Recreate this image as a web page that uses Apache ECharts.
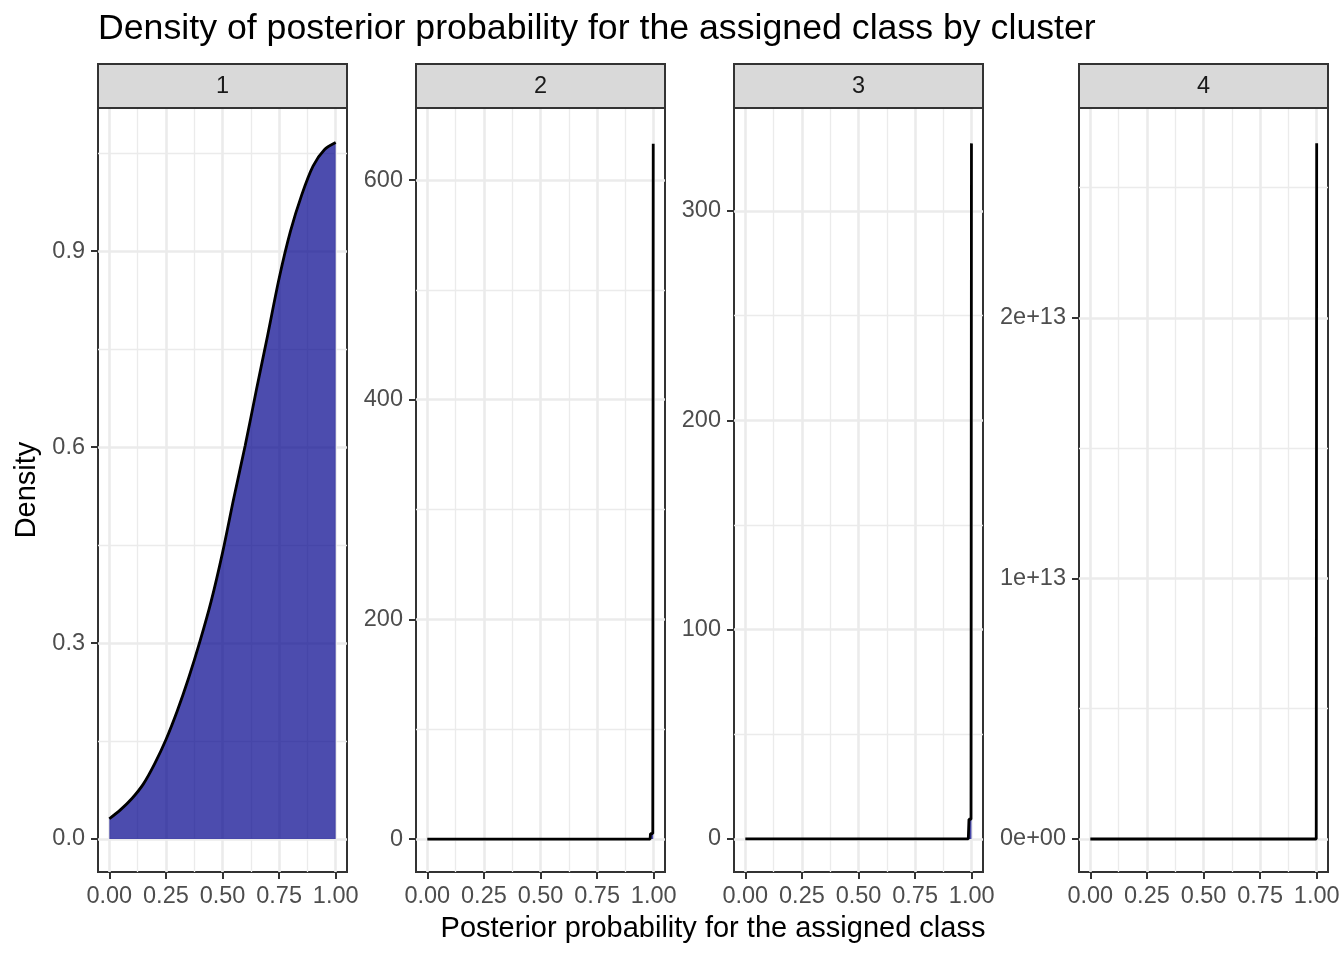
<!DOCTYPE html>
<html><head><meta charset="utf-8">
<script src="https://cdn.jsdelivr.net/npm/echarts@6/dist/echarts.min.js"></script>
<style>html,body{margin:0;padding:0;background:#fff}#c{width:1344px;height:960px}</style>
</head><body><div id="c"></div>
<script>
// ---- data ----
const clusters = ['1', '2', '3', '4'];
const xTicks = [0, 0.25, 0.5, 0.75, 1];
const xMinor = [0.125, 0.375, 0.625, 0.875];

const c1x = [0, 0.05, 0.10, 0.15, 0.20, 0.25, 0.30, 0.35, 0.40, 0.45, 0.50, 0.55, 0.60, 0.65, 0.70, 0.75, 0.80, 0.85, 0.90, 0.95, 1.00];
const c1y = [0.031, 0.045, 0.062, 0.084, 0.115, 0.152, 0.196, 0.246, 0.302, 0.364, 0.438, 0.522, 0.602, 0.688, 0.772, 0.858, 0.930, 0.986, 1.030, 1.055, 1.066];

const c2x = [0, 0.984, 0.986, 0.996, 0.998];
const c2y = [0, 0, 5, 5, 633];

const c3x = [0, 0.985, 0.988, 0.997, 0.999];
const c3y = [0, 0, 9.4, 9.4, 332.3];

const c4x = [0, 0.998, 1.0];
const c4y = [0, 0, 2.671e13];

const yTicks = [[0, 0.3, 0.6, 0.9], [0, 200, 400, 600], [0, 100, 200, 300], [0, 1e13, 2e13]];
const yMinor = [[0.15, 0.45, 0.75, 1.05], [100, 300, 500], [50, 150, 250], [0.5e13, 1.5e13, 2.5e13]];
const yTickLabels = [['0.0', '0.3', '0.6', '0.9'], ['0', '200', '400', '600'], ['0', '100', '200', '300'], ['0e+00', '1e+13', '2e+13']];
// axis limits (panel expansion)
const yMin = [-0.0505, -30, -15.8, -0.1267e13];
const yMax = [1.119, 665.6, 349.2, 2.806e13];

const titleText = 'Density of posterior probability for the assigned class by cluster';
const xTitle = 'Posterior probability for the assigned class';
const yTitle = 'Density';

// ---- layout ----
const FONT = '"Liberation Sans", Arial, Helvetica, sans-serif';
const panelLeft = [98, 416, 734, 1079];
const panelW = 249, panelTop = 108, panelH = 764;
const stripTop = 64, stripH = 44;

const xs = [c1x, c2x, c3x, c4x];
const ys = [c1y, c2y, c3y, c4y];

const grids = [], xAxes = [], yAxes = [], series = [], graphics = [];

clusters.forEach((cl, i) => {
  grids.push({
    left: panelLeft[i], top: panelTop, width: panelW, height: panelH,
    show: true, borderColor: '#333333', borderWidth: 2, backgroundColor: '#ffffff'
  });
  const xmin = -0.05, xmax = 1.05;
  const ymin = yMin[i], ymax = yMax[i];

  xAxes.push({
    type: 'value', gridIndex: i, min: xmin, max: xmax, position: 'bottom',
    axisLine: { show: false, onZero: false },
    axisTick: { show: true, customValues: xTicks, length: 7, lineStyle: { color: '#333333', width: 2 } },
    axisLabel: { show: true, customValues: xTicks, formatter: v => (+v).toFixed(2), color: '#4d4d4d', fontSize: 23.5, margin: 13, fontFamily: FONT },
    splitLine: { show: true, lineStyle: { color: '#ebebeb', width: 2.6 } }
  });
  xAxes.push({
    type: 'value', gridIndex: i, min: xmin, max: xmax, position: 'bottom',
    axisLine: { show: false, onZero: false },
    axisTick: { show: false, customValues: xMinor },
    axisLabel: { show: false, customValues: xMinor },
    splitLine: { show: true, lineStyle: { color: '#ebebeb', width: 1.3 } }
  });
  const labs = yTickLabels[i], tv = yTicks[i];
  yAxes.push({
    type: 'value', gridIndex: i, min: ymin, max: ymax, position: 'left',
    axisLine: { show: false, onZero: false },
    axisTick: { show: true, customValues: tv, length: 7, lineStyle: { color: '#333333', width: 2 } },
    axisLabel: {
      show: true, customValues: tv, color: '#4d4d4d', fontSize: 23.5, margin: 13, fontFamily: FONT,
      formatter: v => { const k = tv.findIndex(t => Math.abs(t - v) <= Math.abs(ymax) * 1e-6); return k >= 0 ? labs[k] : ''; }
    },
    splitLine: { show: true, lineStyle: { color: '#ebebeb', width: 2.6 } }
  });
  yAxes.push({
    type: 'value', gridIndex: i, min: ymin, max: ymax, position: 'left',
    axisLine: { show: false, onZero: false },
    axisTick: { show: false, customValues: yMinor[i] },
    axisLabel: { show: false, customValues: yMinor[i] },
    splitLine: { show: true, lineStyle: { color: '#ebebeb', width: 1.3 } }
  });

  series.push({
    type: 'line', xAxisIndex: 2 * i, yAxisIndex: 2 * i,
    data: xs[i].map((x, k) => [x, ys[i][k]]),
    showSymbol: false, symbol: 'none',
    smooth: i === 0 ? 0.3 : false,
    lineStyle: { color: '#000000', width: 2.8 },
    areaStyle: { color: '#00008b', opacity: 0.7, origin: 0 },
    silent: true, animation: false
  });

  graphics.push({
    type: 'rect', shape: { x: panelLeft[i], y: stripTop, width: panelW, height: stripH },
    style: { fill: '#d9d9d9', stroke: '#333333', lineWidth: 2 }, z: 10
  });
  graphics.push({
    type: 'text', x: panelLeft[i] + panelW / 2, y: stripTop + stripH / 2 + 1,
    style: { text: cl, fill: '#1a1a1a', font: '23.5px ' + FONT, textAlign: 'center', textVerticalAlign: 'middle' }, z: 11
  });
});

graphics.push({
  type: 'text', x: 98, y: 29,
  style: { text: titleText, fill: '#000000', font: '35.7px ' + FONT, textAlign: 'left', textVerticalAlign: 'middle' }
});
graphics.push({
  type: 'text', x: 713, y: 929,
  style: { text: xTitle, fill: '#000000', font: '29px ' + FONT, textAlign: 'center', textVerticalAlign: 'middle' }
});
graphics.push({
  type: 'text', x: 27, y: 490, rotation: Math.PI / 2,
  style: { text: yTitle, fill: '#000000', font: '29px ' + FONT, textAlign: 'center', textVerticalAlign: 'middle' }
});

const chart = echarts.init(document.getElementById('c'), null, { renderer: 'canvas' });
chart.setOption({
  animation: false,
  backgroundColor: '#ffffff',
  grid: grids, xAxis: xAxes, yAxis: yAxes, series: series, graphic: graphics
});
</script></body></html>
